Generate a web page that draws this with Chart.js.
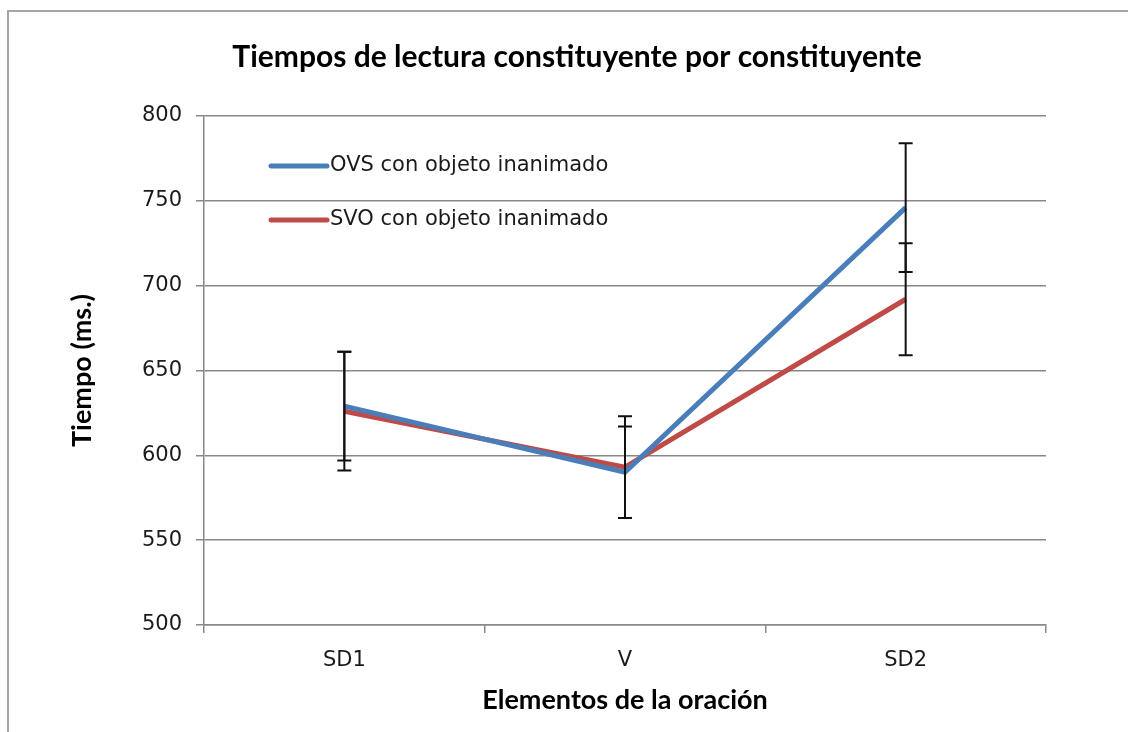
<!DOCTYPE html>
<html>
<head>
<meta charset="utf-8">
<script src="https://cdn.jsdelivr.net/npm/chart.js@4.4.1/dist/chart.umd.min.js"></script>
<style>
  html, body { margin: 0; padding: 0; background: #fff; }
  #wrap { position: relative; width: 1128px; height: 732px; overflow: hidden; }
  #frame {
    position: absolute; left: 7px; top: 10px; width: 1200px; height: 800px;
    border-left: 2px solid #a6a6a6; border-top: 2px solid #a6a6a6;
  }
  canvas { position: absolute; left: 0; top: 0; }
</style>
</head>
<body>
<div id="wrap">
  <div id="frame"></div>
  <canvas id="chart" width="1128" height="732"></canvas>
</div>
<script>
// data
const categories = ['SD1', 'V', 'SD2'];
const seriesNames = ['OVS con objeto inanimado', 'SVO con objeto inanimado'];
const ovsMeans = [629, 590, 746];
const svoMeans = [626, 593, 692];
const ovsErrors = [32, 27, 38];
const svoErrors = [35, 30, 33];
const yMin = 500;
const yMax = 800;
const yStep = 50;

const chartTitle = 'Tiempos de lectura constituyente por constituyente';
const xTitle = 'Elementos de la oración';
const yTitle = 'Tiempo (ms.)';

const blue = '#4a7ebb';
const red = '#be4b48';
const gridColor = '#888888';
const tickFont = { family: 'DejaVu Sans', size: 21 };
const titleFamily = 'Lato';

// error bars drawn on top of the lines
const errorBars = {
    id: 'errorBars',
    afterDatasetsDraw(chart) {
        const ctx = chart.ctx;
        const y = chart.scales.y;
        ctx.save();
        ctx.strokeStyle = '#111';
        ctx.lineWidth = 2;
        chart.data.datasets.forEach((ds, i) => {
            const meta = chart.getDatasetMeta(i);
            ds.data.forEach((v, j) => {
                const px = meta.data[j].x;
                const top = y.getPixelForValue(v + ds.errors[j]);
                const bot = y.getPixelForValue(v - ds.errors[j]);
                ctx.beginPath();
                ctx.moveTo(px, top); ctx.lineTo(px, bot);
                ctx.moveTo(px - 7, top); ctx.lineTo(px + 7, top);
                ctx.moveTo(px - 7, bot); ctx.lineTo(px + 7, bot);
                ctx.stroke();
            });
        });
        ctx.restore();
    }
};

// titles and the legend inside the plot
const textLayer = {
    id: 'textLayer',
    afterDraw(chart) {
        const ctx = chart.ctx;
        const area = chart.chartArea;
        ctx.save();
        ctx.fillStyle = '#000';
        ctx.textAlign = 'center';
        ctx.textBaseline = 'middle';

        ctx.font = 'bold 30px ' + titleFamily;
        ctx.fillText(chartTitle, 577, 57);

        ctx.font = 'bold 27px ' + titleFamily;
        ctx.fillText(xTitle, (area.left + area.right) / 2, 700);

        ctx.translate(82, (area.top + area.bottom) / 2);
        ctx.rotate(-Math.PI / 2);
        ctx.fillText(yTitle, 0, 0);
        ctx.restore();

        // legend
        ctx.save();
        ctx.font = '21px DejaVu Sans';
        ctx.textAlign = 'left';
        ctx.textBaseline = 'middle';
        chart.data.datasets.forEach((ds, i) => {
            const ly = area.top + 50 + i * 54;
            ctx.strokeStyle = ds.borderColor;
            ctx.lineWidth = 5;
            ctx.lineCap = 'round';
            ctx.beginPath();
            ctx.moveTo(area.left + 67, ly);
            ctx.lineTo(area.left + 123, ly);
            ctx.stroke();
            ctx.fillStyle = '#1a1a1a';
            ctx.fillText(ds.label, area.left + 126, ly);
        });
        ctx.restore();
    }
};

new Chart(document.getElementById('chart'), {
    type: 'line',
    data: {
        labels: categories,
        datasets: [
            {
                label: seriesNames[0],
                data: ovsMeans,
                errors: ovsErrors,
                borderColor: blue,
                borderWidth: 5,
                pointRadius: 0,
                fill: false,
                tension: 0
            },
            {
                label: seriesNames[1],
                data: svoMeans,
                errors: svoErrors,
                borderColor: red,
                borderWidth: 5,
                pointRadius: 0,
                fill: false,
                tension: 0
            }
        ]
    },
    options: {
        responsive: false,
        animation: false,
        devicePixelRatio: 1,
        layout: { padding: { top: 116, right: 82, bottom: 0, left: 0 } },
        plugins: {
            legend: { display: false },
            title: { display: false },
            tooltip: { enabled: false }
        },
        scales: {
            x: {
                offset: true,
                afterFit(scale) { scale.height = 107; },
                grid: {
                    offset: true,
                    drawOnChartArea: false,
                    color: gridColor,
                    lineWidth: 1.5,
                    tickLength: 8
                },
                border: { color: gridColor, width: 1.5 },
                ticks: { color: '#1a1a1a', font: tickFont, padding: 15 }
            },
            y: {
                min: yMin,
                max: yMax,
                afterFit(scale) { scale.width = 204; },
                grid: { color: gridColor, lineWidth: 1.5, tickLength: 8 },
                border: { color: gridColor, width: 1.5 },
                ticks: { stepSize: yStep, color: '#1a1a1a', font: tickFont, padding: 14 }
            }
        }
    },
    plugins: [errorBars, textLayer]
});
</script>
</body>
</html>
